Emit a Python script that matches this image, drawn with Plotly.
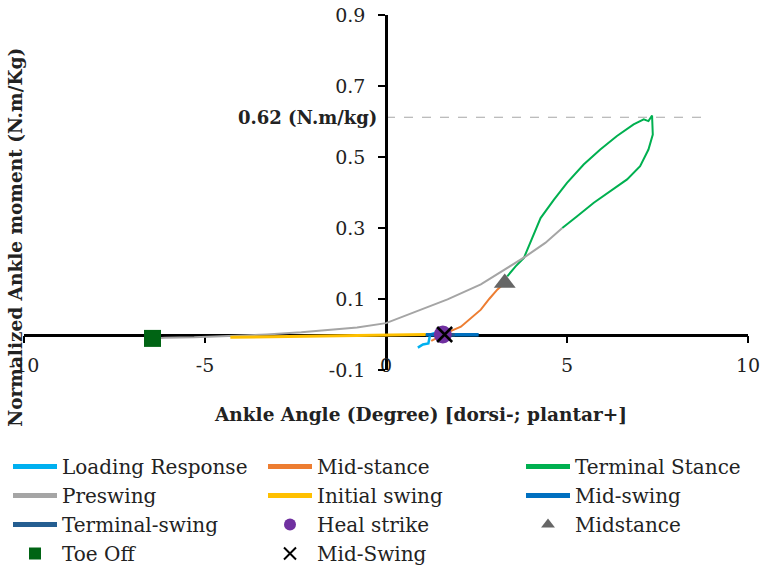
import plotly.graph_objects as go

# ---- data ----
loading_x = [1.55, 1.35, 1.22, 1.17, 1.02, 0.88]
loading_y = [0.003, 0.004, 0.0, -0.025, -0.028, -0.037]

midstance_x = [1.25, 1.5, 1.75, 2.07, 2.42, 2.62, 2.85, 3.08, 3.28]
midstance_y = [-0.018, -0.005, 0.008, 0.022, 0.051, 0.07, 0.1, 0.127, 0.145]

terminal_x = [3.35, 3.58, 3.81, 3.95, 4.09, 4.27, 4.64, 5.0, 5.46, 5.92, 6.38, 6.84, 7.12, 7.25,
              7.35, 7.37, 7.25, 7.02, 6.66, 6.2, 5.74, 5.28, 4.87]
terminal_y = [0.164, 0.192, 0.216, 0.249, 0.286, 0.328, 0.38, 0.427, 0.479, 0.521, 0.559, 0.592, 0.606, 0.601,
              0.617, 0.563, 0.521, 0.474, 0.437, 0.404, 0.371, 0.333, 0.3]

preswing_x = [4.87, 4.4, 3.86, 3.17, 2.62, 1.7, 0.77, 0.0, -0.8, -1.43, -2.34, -3.3, -4.3, -5.3, -6.1, -6.45]
preswing_y = [0.3, 0.258, 0.22, 0.175, 0.141, 0.099, 0.062, 0.032, 0.02, 0.014, 0.006, 0.0, -0.005, -0.008, -0.009, -0.011]

initial_x = [-4.3, -3.0, -2.0, -1.0, 0.0, 0.6, 1.1]
initial_y = [-0.008, -0.006, -0.005, -0.004, -0.002, -0.001, 0.0]

midswing_x = [1.1, 1.6, 2.1, 2.56]
midswing_y = [-0.001, -0.001, -0.001, -0.001]

termswing_x = [1.9, 1.75, 1.57]
termswing_y = [-0.001, 0.0, 0.0]

heal_x, heal_y = [1.57], [0.0]
midst_x, midst_y = [3.28], [0.145]
toeoff_x, toeoff_y = [-6.45], [-0.011]
midsw_x, midsw_y = [1.62], [0.0]

peak_value = 0.612
peak_label = "0.62 (N.m/kg)"
peak_x_end = 8.75

x_ticks = [-10, -5, 0, 5, 10]
y_ticks = [-0.1, 0.1, 0.3, 0.5, 0.7, 0.9]

FONT = "DejaVu Serif"
TXT = "#222222"
W, H = 767, 570
ML, MR, MT, MB = 24, 767 - 748, 15, 570 - 370.5
PW, PH = W - ML - MR, H - MT - MB

def px_x(p):  # page pixel -> container fraction
    return p / W

def px_y(p):
    return 1 - p / H

fig = go.Figure()

def line(x, y, name, color, width, lg):
    fig.add_trace(go.Scatter(x=x, y=y, mode="lines", name=name, legend=lg,
                             line=dict(color=color, width=width)))

line(loading_x, loading_y, "Loading Response", "#00B0F0", 2.5, "legend")
line(midstance_x, midstance_y, "Mid-stance", "#ED7D31", 2, "legend2")
line(terminal_x, terminal_y, "Terminal Stance", "#00B050", 2, "legend3")
line(preswing_x, preswing_y, "Preswing", "#A5A5A5", 2, "legend")
line(initial_x, initial_y, "Initial swing", "#FFC000", 3, "legend2")
line(midswing_x, midswing_y, "Mid-swing", "#0070C0", 3.5, "legend3")
line(termswing_x, termswing_y, "Terminal-swing", "#255E91", 3.5, "legend")

def mark(x, y, name, color, symbol, size, lg, lw=0):
    fig.add_trace(go.Scatter(x=x, y=y, mode="markers", name=name, legend=lg,
                             marker=dict(color=color, symbol=symbol, size=size,
                                         line=dict(width=lw, color=color))))

mark(heal_x, heal_y, "Heal strike", "#7030A0", "circle", 18, "legend2")
mark(midst_x, midst_y, "Midstance", "#666666", "triangle-up", 19, "legend3")
mark(toeoff_x, toeoff_y, "Toe Off", "#006414", "square", 17, "legend")
mark(midsw_x, midsw_y, "Mid-Swing", "#000000", "x-thin", 15, "legend2", 2.5)

fig.add_shape(type="line", x0=0, x1=peak_x_end, y0=peak_value, y1=peak_value,
              xref="x", yref="y", line=dict(color="#A6A6A6", width=1.2, dash="dash"),
              layer="below")

fig.add_annotation(x=0, y=peak_value, xref="x", yref="y", text="<b>" + peak_label + "</b>",
                   showarrow=False, xanchor="right", yanchor="middle", xshift=-7,
                   font=dict(family=FONT, size=18, color=TXT))

# axis titles as annotations
fig.add_annotation(x=(420 - ML) / PW, y=(H - MB - 415) / PH, xref="paper", yref="paper",
                   text="<b>Ankle Angle (Degree) [dorsi-; plantar+]</b>", showarrow=False,
                   xanchor="center", yanchor="middle",
                   font=dict(family=FONT, size=18.5, color=TXT))
fig.add_annotation(x=(16 - ML) / PW, y=(H - MB - 238) / PH, xref="paper", yref="paper",
                   text="<b>Normalized Ankle moment (N.m/Kg)</b>", showarrow=False, textangle=-90,
                   xanchor="center", yanchor="middle",
                   font=dict(family=FONT, size=18.5, color=TXT))

def legend_at(px_left):
    return dict(orientation="v", xref="container", yref="container",
                x=px_x(px_left), y=px_y(447), xanchor="left", yanchor="top",
                itemsizing="constant", itemwidth=44, tracegroupgap=0, bgcolor="rgba(0,0,0,0)",
                font=dict(family=FONT, size=20, color=TXT))

axis_common = dict(showgrid=False, zeroline=False, showline=True, linecolor="black", linewidth=2.5,
                   ticks="outside", ticklen=7, tickwidth=1.5, tickcolor="black",
                   anchor="free", layer="below traces", ticklabeloverflow="allow",
                   tickfont=dict(family=FONT, size=19, color=TXT))

fig.update_layout(
    width=W, height=H,
    margin=dict(l=ML, r=MR, t=MT, b=MB, autoexpand=False),
    paper_bgcolor="white", plot_bgcolor="white",
    font=dict(family=FONT, size=19, color=TXT),
    showlegend=True,
    legend=legend_at(8),
    legend2=legend_at(263),
    legend3=legend_at(521),
    xaxis=dict(range=[-10, 10], tickvals=x_ticks, ticktext=[str(v) for v in x_ticks],
               position=0.1, ticklabelstandoff=6, **axis_common),
    yaxis=dict(range=[-0.1, 0.9], tickvals=y_ticks, ticktext=[f"{v:.1f}" for v in y_ticks],
               position=0.5, ticklabelstandoff=9, **axis_common),
)

fig.write_html("out.html", config={"displayModeBar": False},
               post_script="document.body.style.margin='0';")
